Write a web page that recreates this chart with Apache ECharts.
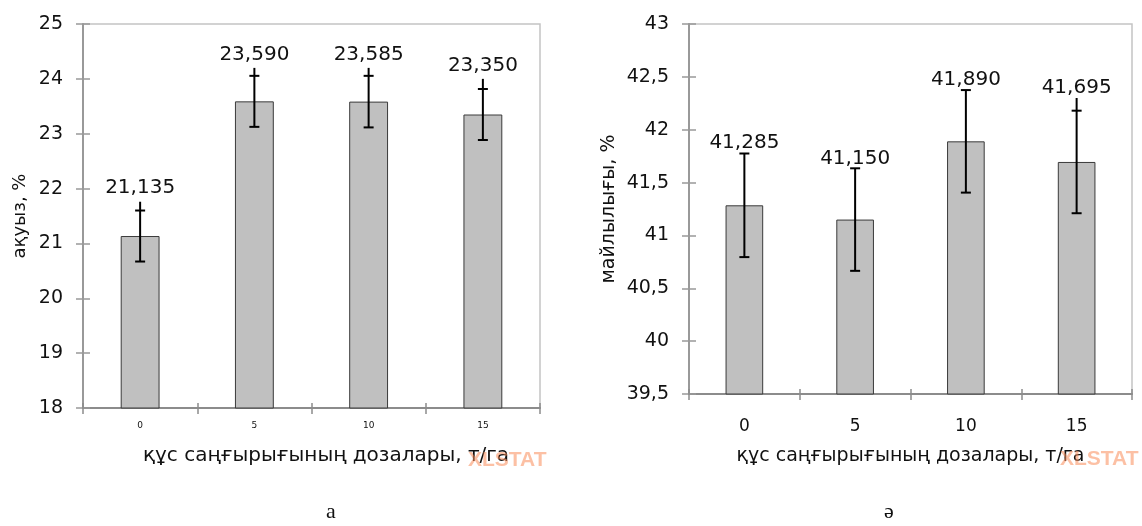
<!DOCTYPE html>
<html><head><meta charset="utf-8">
<script src="https://cdn.jsdelivr.net/npm/echarts@6/dist/echarts.min.js"></script>
<style>html,body{margin:0;padding:0;background:#fff}#c{width:1142px;height:526px}</style>
</head><body><div id="c"></div>
<script>
// ---- data ----
const categories = ['0', '5', '10', '15'];
const akuyzMean = [21.135, 23.590, 23.585, 23.350];
const akuyzErr = [0.465, 0.465, 0.47, 0.465];
const akuyzWhiskerTop = [21.76, 24.20, 24.20, 24.00];
const akuyzTicks = [18, 19, 20, 21, 22, 23, 24, 25];

const maylyMean = [41.285, 41.150, 41.890, 41.695];
const maylyErr = [0.49, 0.485, 0.485, 0.485];
const maylyWhiskerTop = [41.78, 41.635, 42.375, 42.30];
const maylyTicks = [39.5, 40, 40.5, 41, 41.5, 42, 42.5, 43];

const xName = 'құс саңғырығының дозалары, т/га';
const yNameLeft = 'ақуыз, %';
const yNameRight = 'майлылығы, %';
const captions = ['а', 'ә'];

// ---- helpers ----
const FONT = '"DejaVu Sans", sans-serif';
const comma = v => String(v).replace('.', ',');
const fmt3 = v => v.toFixed(3).replace('.', ',');

function errData(mean, err, top) {
  return mean.map((m, i) => [i, m - err[i], m + err[i], top[i], m]);
}
function errRender(labelOffset) {
  return function (params, api) {
    const i = api.value(0);
    const pLo = api.coord([i, api.value(1)]);
    const pHi = api.coord([i, api.value(2)]);
    const pTop = api.coord([i, api.value(3)]);
    const cx = pLo[0];
    const topY = Math.min(pHi[1], pTop[1]);
    const cap = 5;
    const st = { stroke: '#000', lineWidth: 2 };
    return {
      type: 'group',
      children: [
        { type: 'line', shape: { x1: cx, y1: pLo[1], x2: cx, y2: topY }, style: st },
        { type: 'line', shape: { x1: cx - cap, y1: pLo[1], x2: cx + cap, y2: pLo[1] }, style: st },
        { type: 'line', shape: { x1: cx - cap, y1: pHi[1], x2: cx + cap, y2: pHi[1] }, style: st },
        { type: 'text', x: cx, y: topY - labelOffset,
          style: { text: fmt3(api.value(4)), align: 'center', verticalAlign: 'middle',
                   font: '20px ' + FONT, fill: '#111' } }
      ]
    };
  };
}

function yAxes(ticks, gridIndex, name, nameGap, nameSize) {
  const mn = ticks[0], mx = ticks[ticks.length - 1], iv = ticks[1] - ticks[0];
  return [
    { type: 'value', gridIndex, min: mn, max: mx, interval: iv, position: 'left',
      splitLine: { show: false },
      axisLine: { show: true, lineStyle: { color: '#999', width: 2 } },
      axisTick: { show: true, length: 7, lineStyle: { color: '#999', width: 1.5 } },
      axisLabel: { margin: 20, fontSize: 19, fontFamily: FONT, color: '#111', formatter: comma },
      name, nameLocation: 'middle', nameGap, nameRotate: 90,
      nameTextStyle: { fontSize: nameSize, fontFamily: FONT, color: '#111' } },
    { type: 'value', gridIndex, min: mn, max: mx, interval: iv, position: 'left',
      splitLine: { show: false }, axisLine: { show: false },
      axisTick: { show: true, inside: true, length: 7, lineStyle: { color: '#999', width: 1.5 } },
      axisLabel: { show: false } }
  ];
}
function xAxes(gridIndex, labelSize, labelMargin, nameGap, namePad, nameSize) {
  return [
    { type: 'category', gridIndex, data: categories, position: 'bottom',
      axisLine: { show: true, lineStyle: { color: '#8c8c8c', width: 2 } },
      axisTick: { show: true, length: 6, lineStyle: { color: '#8c8c8c', width: 1.5 } },
      axisLabel: { margin: labelMargin, fontSize: labelSize, fontFamily: FONT, color: '#111' },
      name: xName, nameLocation: 'middle', nameGap,
      nameTextStyle: { fontSize: nameSize, fontFamily: FONT, color: '#111', padding: namePad } },
    { type: 'category', gridIndex, data: categories, position: 'bottom',
      axisLine: { show: false },
      axisTick: { show: true, inside: true, length: 5, lineStyle: { color: '#8c8c8c', width: 1.5 } },
      axisLabel: { show: false } }
  ];
}

const barStyle = { color: '#c0c0c0', borderColor: '#3a3a3a', borderWidth: 1 };
const wmFont = 'bold 21px "Liberation Sans", Arial, sans-serif';
const wmFill = 'rgba(249,140,90,0.55)';

const option = {
  animation: false,
  backgroundColor: '#fff',
  grid: [
    { left: 83, top: 24, width: 457, height: 384, show: true, borderColor: '#c4c4c4', borderWidth: 1.5 },
    { left: 689, top: 24, width: 443, height: 370, show: true, borderColor: '#c4c4c4', borderWidth: 1.5 }
  ],
  xAxis: [
    ...xAxes(0, 9, 13, 38, [0, 0, 0, 29], 20),
    ...xAxes(1, 17, 24, 53, [0, 0, 0, 0], 19)
  ],
  yAxis: [
    ...yAxes(akuyzTicks, 0, yNameLeft, 54, 18),
    ...yAxes(maylyTicks, 1, yNameRight, 70, 19)
  ],
  series: [
    { type: 'bar', xAxisIndex: 0, yAxisIndex: 0, data: akuyzMean, barWidth: '34%', itemStyle: barStyle },
    { type: 'custom', xAxisIndex: 0, yAxisIndex: 0, data: errData(akuyzMean, akuyzErr, akuyzWhiskerTop),
      renderItem: errRender(13.5), z: 5 },
    { type: 'bar', xAxisIndex: 2, yAxisIndex: 2, data: maylyMean, barWidth: '34%', itemStyle: barStyle },
    { type: 'custom', xAxisIndex: 2, yAxisIndex: 2, data: errData(maylyMean, maylyErr, maylyWhiskerTop),
      renderItem: errRender(10), z: 5 }
  ],
  graphic: [
    { type: 'text', left: 468, top: 450, z: 10, style: { text: 'XLSTAT', font: wmFont, fill: wmFill } },
    { type: 'text', left: 1060, top: 449, z: 10, style: { text: 'XLSTAT', font: wmFont, fill: wmFill } },
    { type: 'text', x: 331, y: 512, z: 10,
      style: { text: captions[0], align: 'center', verticalAlign: 'middle', font: '22px "Liberation Serif", serif', fill: '#111' } },
    { type: 'text', x: 889, y: 512, z: 10,
      style: { text: captions[1], align: 'center', verticalAlign: 'middle', font: '22px "Liberation Serif", serif', fill: '#111' } }
  ]
};
echarts.init(document.getElementById('c'), null, { renderer: 'canvas' }).setOption(option);
</script></body></html>
